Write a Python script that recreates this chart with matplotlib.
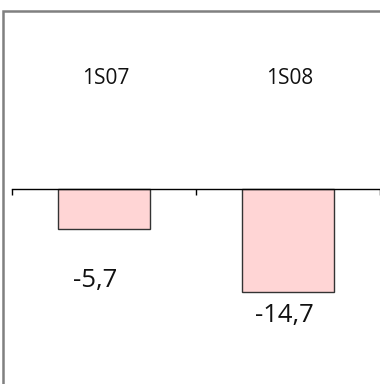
import matplotlib

matplotlib.use('agg')
import matplotlib.pyplot as plt
from matplotlib.patches import Rectangle

plt.rcParams['font.family'] = ['Open Sans', 'DejaVu Sans']

categories = ['1S07', '1S08']
values = [-5.7, -14.7]
value_labels = ['-5,7', '-14,7']

W, H = 380, 384
fig = plt.figure(figsize=(W / 100, H / 100), dpi=100)
ax = fig.add_axes([0, 0, 1, 1])

# pixel mapping: category width 187px starting at x=12, 7px per unit, zero at y=189
ax.set_xlim(-0.5 - 12 / 187, (W - 12) / 187 - 0.5)
ax.set_ylim(-(H - 189) / 7.0, 189 / 7.0)

xs = list(range(len(categories)))
bars = ax.bar(xs, values, width=0.5, color='#ffd5d5', edgecolor='#333333', linewidth=1.0, zorder=2)

for s in ['top', 'left', 'right']:
	ax.spines[s].set_visible(False)
ax.spines['bottom'].set_position(('data', 0))
ax.spines['bottom'].set_bounds(-0.5, len(categories) - 0.5)
ax.spines['bottom'].set_linewidth(1.0)
ax.spines['bottom'].set_zorder(3)
ax.set_xticks([i - 0.5 for i in range(len(categories) + 1)])
ax.tick_params(axis='x', direction='out', length=4.5, width=1.0, labelbottom=False)
ax.set_yticks([])

for x, cat in zip(xs, categories):
	ax.annotate(cat, xy=(x, 0), xytext=(1.5, 111 * 0.72), textcoords='offset points',
				ha='center', va='center', fontsize=15, color='#111111')

label_offsets = [(-9, -52), (-4, -24)]
for bar, lab, (dx, dy) in zip(bars, value_labels, label_offsets):
	ax.annotate(lab, xy=(bar.get_x() + bar.get_width() / 2, bar.get_height()),
				xytext=(dx * 0.72, dy * 0.72), textcoords='offset points',
				ha='center', va='center', fontsize=18.5, color='#111111')

fig.patches.append(Rectangle((3 / W, -0.1), 1.2, 1 - 11 / H + 0.1, transform=fig.transFigure,
							 fill=False, edgecolor='#808080', linewidth=1.8, zorder=5))

fig.savefig('out.png', dpi=100)
